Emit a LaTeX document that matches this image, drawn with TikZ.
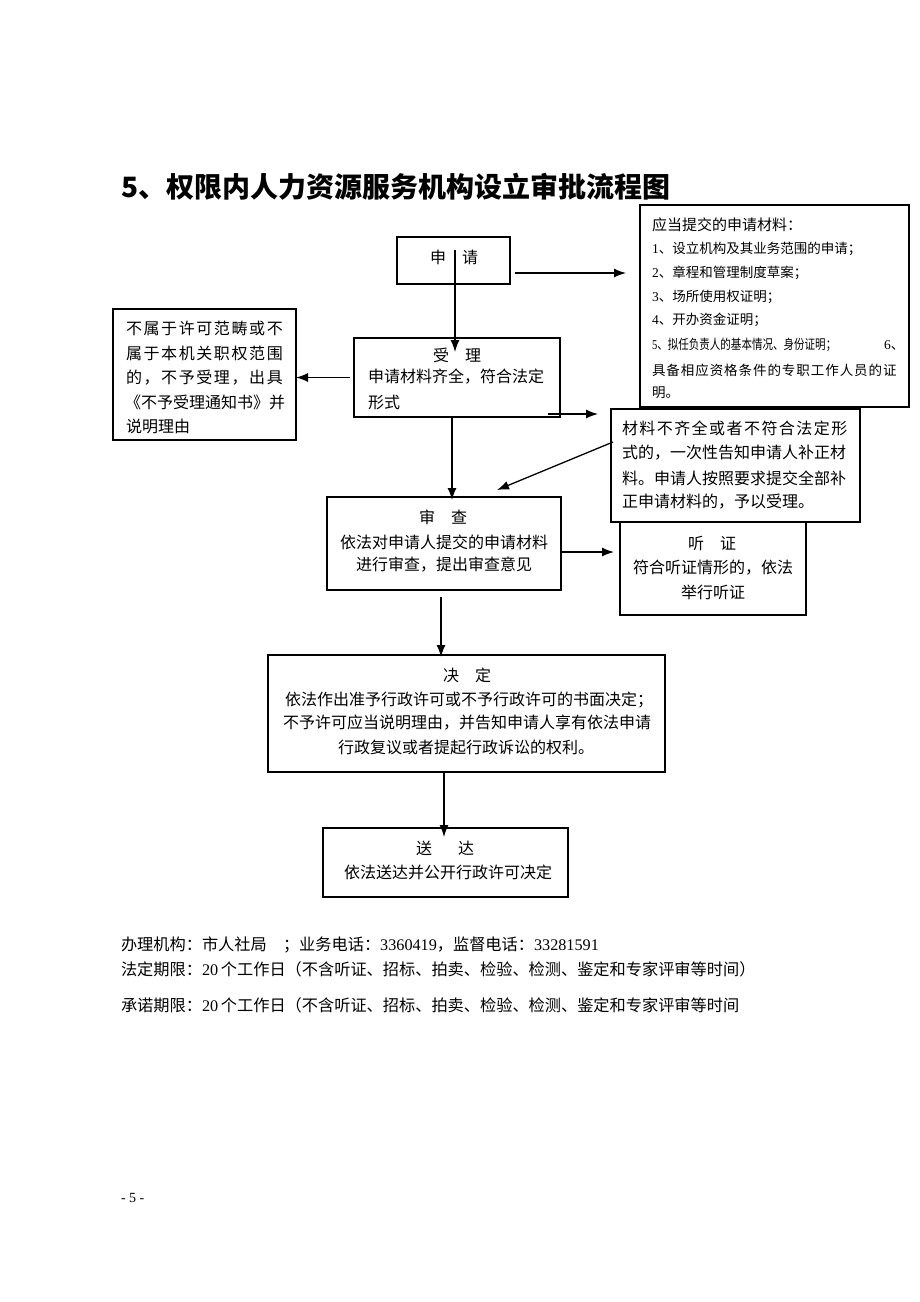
\documentclass[tikz,border=0pt]{standalone}
\usepackage{fontspec}
\setmainfont{Noto Sans CJK SC}
\newfontfamily\lat{Liberation Serif}
\usetikzlibrary{arrows.meta}
\newcommand\lsp[2]{{\addfontfeatures{LetterSpace=#1}#2}}
\newcommand\fsz[1]{\fontsize{#1}{#1}\selectfont}
\begin{document}
\begin{tikzpicture}[x=1pt,y=-1pt,
  box/.style={draw, line width=1.2pt, inner sep=0pt, outer sep=0pt, fill=white},
  txt/.style={inner sep=0pt, outer sep=0pt, font=\fsz{16}},
  arr/.style={line width=1.3pt, -{Latex[length=12pt,width=9pt]}}]
\useasboundingbox[fill=white] (0,0) rectangle (920,1302);

% title
\node[txt, anchor=west, font=\fsz{28}\bfseries] (title) at (121,187) {5、权限内人力资源服务机构设立审批流程图};

% boxes
\node[box, minimum width=113pt, minimum height=47pt] (sq) at (453.5,260.5) {};
\node[box, minimum width=269pt, minimum height=202pt] (mat) at (774.5,306) {};
\node[box, minimum width=206pt, minimum height=79pt] (sl) at (457,377.5) {};
\node[box, minimum width=183pt, minimum height=131pt] (bsy) at (204.5,374.5) {};
\node[box, minimum width=186pt, minimum height=93pt] (tz) at (713,568.5) {};
\node[box, minimum width=249pt, minimum height=113pt] (bq) at (735.5,465.5) {};
\node[box, minimum width=234pt, minimum height=93pt] (sc) at (444,543.5) {};
\node[box, minimum width=397pt, minimum height=117pt] (jd) at (466.5,713.5) {};
\node[box, minimum width=245pt, minimum height=69pt] (sd) at (445.5,862.5) {};

% 申请
\node[txt] (sqt) at (454,257) {申　请};

% materials
\node[txt, anchor=west, font=\fsz{15}] (m0) at (652,225) {应当提交的申请材料：};
\node[txt, anchor=west, font=\fsz{13.5}] (m1) at (652,249) {{\lat 1}、设立机构及其业务范围的申请；};
\node[txt, anchor=west, font=\fsz{13.5}] (m2) at (652,273) {{\lat 2}、章程和管理制度草案；};
\node[txt, anchor=west, font=\fsz{13.5}] (m3) at (652,297) {{\lat 3}、场所使用权证明；};
\node[txt, anchor=west, font=\fsz{13.5}] (m4) at (652,320) {{\lat 4}、开办资金证明；};
\node[txt, anchor=west, font=\fsz{13.5}] (m5) at (652,345) {\scalebox{0.78}[1]{{\lat 5}、拟任负责人的基本情况、身份证明；}};
\node[txt, anchor=west, font=\fsz{13.5}] (m5b) at (884,345) {{\lat 6}、};
\node[txt, anchor=west, font=\fsz{13.5}] (m6) at (652,370) {\lsp{7}{具备相应资格条件的专职工作人员的证}};
\node[txt, anchor=west, font=\fsz{13.5}] (m7) at (652,393) {明。};

% 不予受理
\node[txt, anchor=west] (b1) at (126,328) {\lsp{10}{不属于许可范畴或不}};
\node[txt, anchor=west] (b2) at (126,353) {\lsp{10}{属于本机关职权范围}};
\node[txt, anchor=west] (b3) at (126,378) {\lsp{10}{的，不予受理，出具}};
\node[txt, anchor=west] (b4) at (125,402) {《不予受理通知书》并};
\node[txt, anchor=west] (b5) at (126,426) {说明理由};

% 受理
\node[txt] (s0) at (457,355) {受　理};
\node[txt, anchor=west] (s1) at (368,377) {申请材料齐全，符合法定};
\node[txt, anchor=west] (s2) at (368,402) {形式};

% 补正
\node[txt, anchor=west] (q1) at (622,428) {\lsp{9}{材料不齐全或者不符合法定形}};
\node[txt, anchor=west] (q2) at (622,453) {式的，一次性告知申请人补正材};
\node[txt, anchor=west] (q3) at (622,478) {料。申请人按照要求提交全部补};
\node[txt, anchor=west] (q4) at (622,502) {正申请材料的，予以受理。};

% 听证
\node[txt] (z0) at (712,543) {听　证};
\node[txt] (z1) at (713,568) {符合听证情形的，依法};
\node[txt] (z2) at (713,592) {举行听证};

% 审查
\node[txt] (c0) at (443,517) {审　查};
\node[txt] (c1) at (444,542) {依法对申请人提交的申请材料};
\node[txt] (c2) at (444,565) {进行审查，提出审查意见};

% 决定
\node[txt] (j0) at (467,675) {决　定};
\node[txt] (j1) at (469,700) {依法作出准予行政许可或不予行政许可的书面决定；};
\node[txt] (j2) at (467,723) {不予许可应当说明理由，并告知申请人享有依法申请};
\node[txt] (j3) at (466,747) {行政复议或者提起行政诉讼的权利。};

% 送达
\node[txt] (d0) at (445,848) {送\hspace{26pt}达};
\node[txt] (d1) at (448,872) {依法送达并公开行政许可决定};

% connectors
\draw[arr] ([shift={(5,12.5)}]sq.east) -- ++(111,0);
\draw[arr] ([shift={(1.5,-10.5)}]sq.center) -- ([shift={(-2,14)}]sl.north);
\draw[arr] ([xshift=-4pt]sl.west) -- (bsy.east |- sl.west);
\draw[arr] ([shift={(-12,-3)}]sl.south east) -- ++(50,0);
\draw[arr] ([shift={(2,-23.5)}]bq.west) -- ([shift={(53,-7)}]sc.north);
\draw[arr] ([shift={(-5,0)}]sl.south) -- ([shift={(8,3)}]sc.north);
\draw[arr] ([shift={(0,8.5)}]sc.east) -- ([shift={(-6,-16.5)}]tz.west);
\draw[arr] ([shift={(-3,7)}]sc.south) -- ([shift={(-25.5,2)}]jd.north);
\draw[arr] ([shift={(-22.5,0)}]jd.south) -- ([shift={(-1.5,9)}]sd.north);

% footer
\node[txt, anchor=west, font=\fsz{16.2}] (f1) at (121,945) {办理机构：市人社局　；业务电话：{\lat 3360419}，监督电话：{\lat 33281591}};
\node[txt, anchor=west, font=\fsz{16.2}] (f2) at (121,969) {法定期限：{\lat 20\,}个工作日（不含听证、招标、拍卖、检验、检测、鉴定和专家评审等时间）};
\node[txt, anchor=west, font=\fsz{16.2}] (f3) at (121,1005) {承诺期限：{\lat 20\,}个工作日（不含听证、招标、拍卖、检验、检测、鉴定和专家评审等时间};
\node[txt, anchor=west, font=\fsz{14}\lat] (pn) at (121,1198) {- 5 -};
\end{tikzpicture}
\end{document}
